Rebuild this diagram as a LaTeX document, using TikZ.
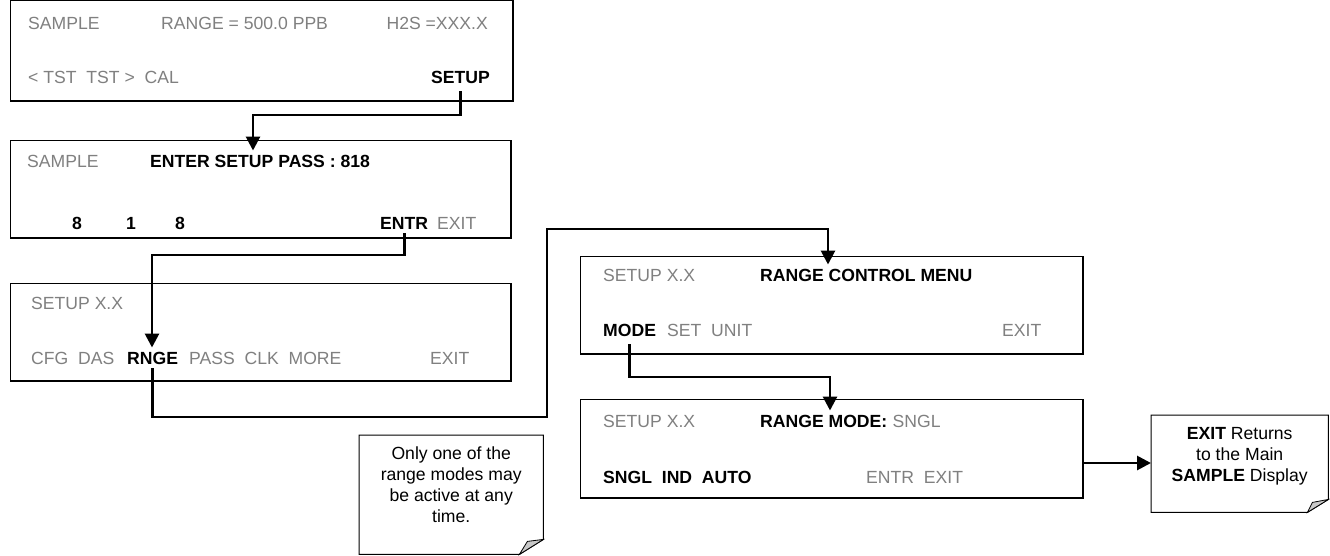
\documentclass[tikz,border=0pt]{standalone}
\usepackage{fontspec}
\setmainfont{Liberation Sans}
\usetikzlibrary{arrows.meta}
\definecolor{txtgray}{RGB}{128,128,128}
\definecolor{foldgray}{RGB}{200,200,200}
\begin{document}
\begin{tikzpicture}[x=1pt,y=-1pt,
  every node/.style={font=\fontsize{17.6}{21}\selectfont},
  screen/.style={draw=black, line width=0.9pt, fill=white, inner sep=0pt, anchor=north west},
  shadowline/.style={line width=2pt},
  gt/.style={text=txtgray, inner xsep=0pt, inner ysep=2pt, anchor=base west},
  bt/.style={text=black, font=\fontsize{17.6}{21}\selectfont\bfseries, inner xsep=0pt, inner ysep=4pt, anchor=base west},
  conn/.style={line width=2.8pt, -{Triangle[length=14pt,width=14pt]}},
  notearea/.style={inner sep=0pt, anchor=north west},
  notebox/.style={draw=black, line width=1pt, fill=white, line join=miter},
  fold/.style={draw=black, line width=0.8pt, fill=foldgray},
  notetext/.style={align=center, anchor=north, inner sep=0pt, font=\fontsize{17.6}{20.7}\selectfont}]
\useasboundingbox (0,0) rectangle (1330,555);

% ---------- screen 1 ----------
\node[screen, minimum width=502pt, minimum height=100pt] (b1) at (10,0) {};
\draw[shadowline] (b1.north east) -- (b1.south east) -- (b1.south west);
\node[gt] (b1a) at (28,29) {SAMPLE};
\node[gt] (b1b) at (161,29) {RANGE = 500.0 PPB};
\node[gt, anchor=base east] (b1c) at (488,29) {H2S =XXX.X};
\node[gt] (b1d) at (28,83) {< TST\ \ TST >\ \ CAL};
\node[bt, anchor=base east, inner ysep=8pt] (setup) at (490,83) {SETUP};

% ---------- screen 2 ----------
\node[screen, minimum width=500pt, minimum height=97pt] (b2) at (10,140) {};
\draw[shadowline] (b2.north east) -- (b2.south east) -- (b2.south west);
\node[gt] (b2a) at (27,167) {SAMPLE};
\node[bt] (enter) at (150,167) {ENTER SETUP PASS : 818};
\node[bt] (k1) at (72,229) {8};
\node[bt] (k2) at (126,229) {1};
\node[bt] (k3) at (175,229) {8};
\node[bt] (entr) at (380,229) {ENTR};
\node[gt] (b2x) at (437,229) {EXIT};

% ---------- screen 3 ----------
\node[screen, minimum width=500pt, minimum height=97pt] (b3) at (10,283) {};
\draw[shadowline] (b3.north east) -- (b3.south east) -- (b3.south west);
\node[gt] (b3a) at (31,309) {SETUP X.X};
\node[gt] (b3b) at (31,364) {CFG\ \ DAS};
\node[bt] (rnge) at (127,364) {RNGE};
\node[gt] (b3c) at (189,364) {PASS\ \ CLK\ \ MORE};
\node[gt] (b3x) at (430,364) {EXIT};

% ---------- screen 4 ----------
\node[screen, minimum width=502pt, minimum height=97pt] (b4) at (580,256) {};
\draw[shadowline] (b4.north east) -- (b4.south east) -- (b4.south west);
\node[gt] (b4a) at (603,281) {SETUP X.X};
\node[bt] (rcm) at (760,281) {RANGE CONTROL MENU};
\node[bt, inner ysep=8pt] (mode) at (603,336) {MODE};
\node[gt] (b4b) at (667,336) {SET\ \ UNIT};
\node[gt] (b4x) at (1002,336) {EXIT};

% ---------- screen 5 ----------
\node[screen, minimum width=502pt, minimum height=98pt] (b5) at (580,399) {};
\draw[shadowline] (b5.north east) -- (b5.south east) -- (b5.south west);
\node[gt] (b5a) at (603,427) {SETUP X.X};
\node[bt] (rmode) at (760,427) {RANGE MODE:};
\node[gt, anchor=base west] (sngl) at (rmode.base east) {\ SNGL};
\node[bt] (b5b) at (603,483) {SNGL\ \ IND\ \ AUTO};
\node[gt] (b5c) at (866,483) {ENTR\ \ EXIT};

% ---------- note 1 ----------
\node[notearea, minimum width=184pt, minimum height=119pt] (n1) at (359,435) {};
\draw[notebox] (n1.north west) -- (n1.north east) -- ([yshift=15pt]n1.south east)
  -- ([xshift=-24pt]n1.south east) -- (n1.south west) -- cycle;
\draw[fold] ([xshift=-24pt]n1.south east) -- ([xshift=-16pt,yshift=13pt]n1.south east)
  -- ([yshift=15pt]n1.south east) -- cycle;
\node[notetext] (n1t) at ([yshift=-12pt]n1.north) {Only one of the\\range modes may\\be active at any\\time.};

% ---------- note 2 ----------
\node[notearea, minimum width=177pt, minimum height=97pt] (n2) at (1151,415) {};
\draw[notebox] (n2.north west) -- (n2.north east) -- ([yshift=13pt]n2.south east)
  -- ([xshift=-21pt]n2.south east) -- (n2.south west) -- cycle;
\draw[fold] ([xshift=-21pt]n2.south east) -- ([xshift=-16pt,yshift=10pt]n2.south east)
  -- ([yshift=13pt]n2.south east) -- cycle;
\node[notetext, font=\fontsize{17.6}{21}\selectfont] (n2t) at ([yshift=-12pt]n2.north)
  {\textbf{EXIT} Returns\\to the Main\\\textbf{SAMPLE} Display};

% ---------- connectors ----------
\coordinate (j1) at (253,115);
\draw[conn] (setup.south) |- (j1) -- (j1 |- enter.north);
\coordinate (j2) at (152,255);
\draw[conn] (entr.south) |- (j2) -- (j2 |- rnge.north);
\coordinate (j3a) at (547,417);
\coordinate (j3b) at (828,229);
\draw[conn] (rnge.south) |- (j3a) |- (j3b) -- (j3b |- rcm.north);
\coordinate (j4) at (830,377);
\draw[conn] (mode.south) |- (j4) -- (j4 |- rmode.north);
\coordinate (j5) at (1100,463);
\draw[conn] (b5.east |- j5) -- (n2.west |- j5);
\end{tikzpicture}
\end{document}
